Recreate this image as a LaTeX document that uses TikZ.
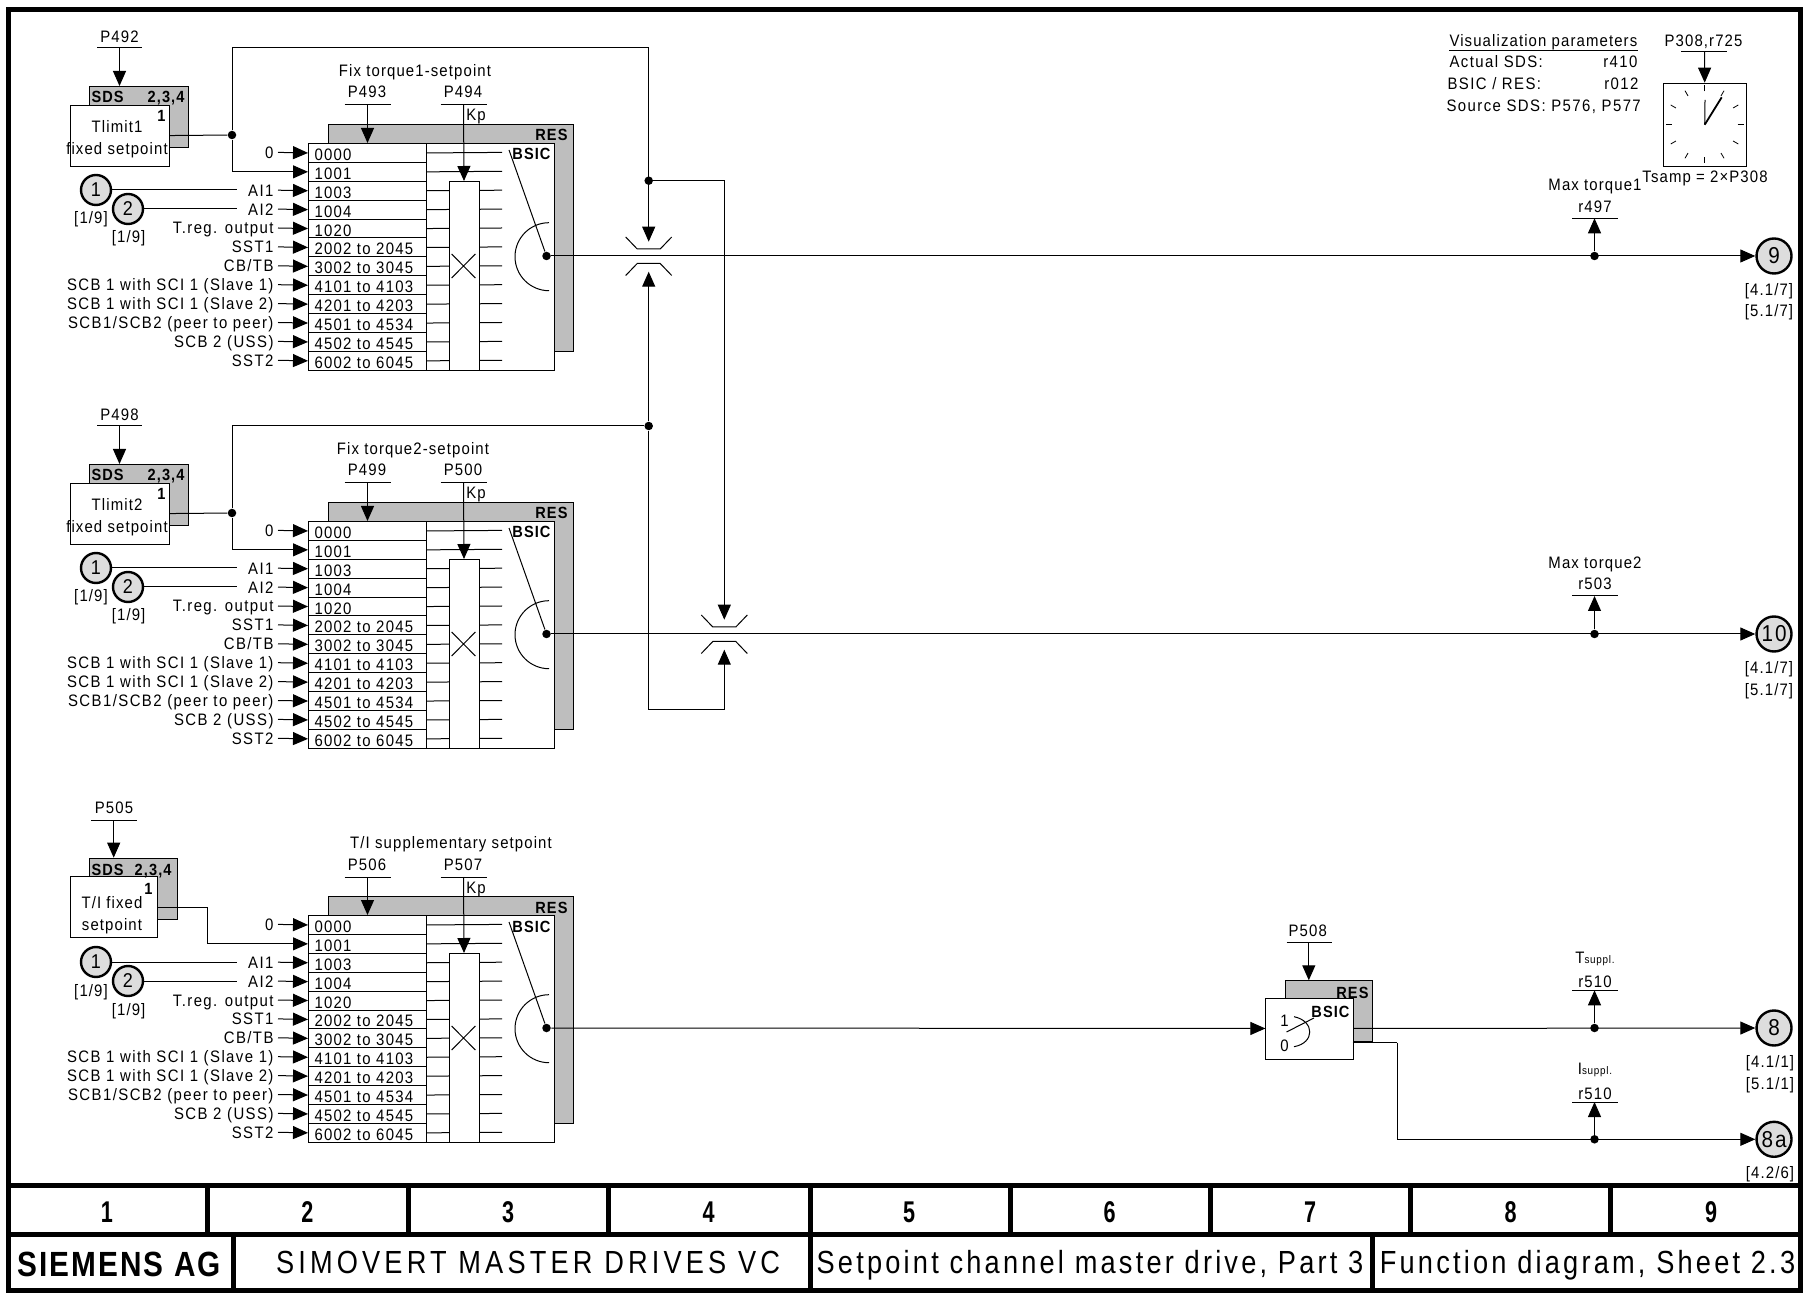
\documentclass[tikz,border=0pt]{standalone}
\usepackage{fontspec}
\usetikzlibrary{arrows.meta,calc}
\newfontfamily\lblfam[FakeStretch=.9,LetterSpace=8.6]{Liberation Sans}
\newfontfamily\rowfam[FakeStretch=.9,LetterSpace=7.5]{Liberation Sans}
\newfontfamily\visfam[FakeStretch=.9,LetterSpace=6.7]{Liberation Sans}
\newfontfamily\numfam[FakeStretch=.72]{Liberation Sans}
\newfontfamily\prodfam[FakeStretch=.85,LetterSpace=13]{Liberation Sans}
\newfontfamily\headfam[FakeStretch=.85,LetterSpace=10]{Liberation Sans}
\newfontfamily\firmfam[FakeStretch=.85,LetterSpace=6]{Liberation Sans}
\def\px{.5pt}
\definecolor{resgrey}{HTML}{BEBEBE}
\definecolor{sheetgrey}{HTML}{DDDDDD}
\tikzset{
  lbl/.style={font=\visfam\fontsize{8.3}{10}\selectfont,inner sep=0pt,text height=6pt,text depth=0pt},
  lblr/.style={lbl,font=\lblfam\fontsize{8.3}{10}\selectfont,anchor=east},
  lbll/.style={lbl,font=\lblfam\fontsize{8.3}{10}\selectfont,anchor=west},
  boldlbl/.style={lbl,font=\visfam\fontsize{8.1}{10}\selectfont\bfseries},
  box/.style args={#1x#2}{draw,anchor=north west,inner sep=0pt,minimum width=#1*\px,minimum height=#2*\px},
  whitebox/.style={box=#1,fill=white},
  greybox/.style={box=#1,fill=resgrey},
  rowbox/.style={whitebox=118x18.9,text width=106*\px,inner xsep=6*\px,text height=7.5pt,text depth=0pt,
    align=left,font=\rowfam\fontsize{8.3}{10}\selectfont},
  sheet/.style={circle,draw,line width=1.2pt,fill=sheetgrey,inner sep=0pt,minimum size=30*\px,
    font=\lblfam\fontsize{10}{12}\selectfont},
  outsheet/.style={sheet,minimum size=35*\px,font=\lblfam\fontsize{11.5}{13}\selectfont},
  dot/.style={circle,fill=black,inner sep=0pt,minimum size=8.5*\px},
  bignum/.style={font=\numfam\fontsize{15}{18}\selectfont\bfseries,inner sep=0pt},
  headtxt/.style={font=\headfam\fontsize{16}{19}\selectfont,inner sep=0pt}
}
\begin{document}
\begin{tikzpicture}[x=.5pt,y=-.5pt,line width=.5pt,>={Triangle[length=7.5pt,width=6.5pt]}]
  \useasboundingbox (0,0) rectangle (1803,1293);
  % Three selector blocks, same layout, shifted down the sheet.
  \foreach \b/\dy/\tx/\ti/\pa/\pb in {1/0/415/{Fix torque1-setpoint}/P493/P494,
      2/378/413/{Fix torque2-setpoint}/P499/P500,
      3/772/451/{T/I supplementary setpoint}/P506/P507} {
    \node[greybox=245x227] (res\b) at (328,124+\dy) {};
    \node[whitebox=246x227] (sel\b) at (308,143+\dy) {};
    \node[boldlbl,anchor=east] at (568,135+\dy) {RES};
    \node[boldlbl,anchor=east] at (551,154+\dy) {BSIC};
    \foreach \i/\lab/\cod in {0/0/0000,1//1001,2/AI1/1003,3/AI2/1004,4/T.reg. output/1020,
        5/SST1/2002 to 2045,6/{CB/TB}/3002 to 3045,7/SCB 1 with SCI 1 (Slave 1)/4101 to 4103,
        8/SCB 1 with SCI 1 (Slave 2)/4201 to 4203,9/{SCB1/SCB2 (peer to peer)}/4501 to 4534,
        10/SCB 2 (USS)/4502 to 4545,11/SST2/6002 to 6045} {
      \node[rowbox] (row\b-\i) at (308,143+\dy+18.9*\i) {\cod};
      \draw (row\b-\i.east) -- (502,152.4+\dy+18.9*\i);
      \ifnum\i=1\else
        \node[lblr] (lab\b-\i) at (274,152.4+\dy+18.9*\i) {\lab};
        \coordinate (in\b-\i) at (278,152.4+\dy+18.9*\i);
        \draw[->] (in\b-\i) -- (row\b-\i.west);
      \fi
    }
    \node[whitebox=30x189] (mult\b) at (448.5,181+\dy) {};
    \draw (451.6,254+\dy) -- (475.4,278+\dy) (475.4,254+\dy) -- (451.6,278+\dy);
    % setpoint selector switch
    \node[dot] (sw\b) at (546.5,256+\dy) {};
    \coordinate (swtop\b) at (509,150+\dy);
    \draw (swtop\b) -- (sw\b);
    \draw (549,222.7+\dy) arc[start angle=-90,end angle=-270,radius=34];
    % parameter bars
    \node[lbl] at (\tx,70.7+\dy) {\ti};
    \node[lbl] at (367,92+\dy) {\pa};
    \node[lbl] at (463,92+\dy) {\pb};
    \node[lbl] at (476,115+\dy) {Kp};
    \coordinate (bara\b) at (367.5,105+\dy);
    \coordinate (barb\b) at (463.5,105+\dy);
    \draw (344.5,105+\dy) -- (390.5,105+\dy);
    \draw (440.5,105+\dy) -- (486.5,105+\dy);
    \draw[->] (bara\b) -- (bara\b |- row\b-0.north);
    \draw[->] (barb\b) -- (mult\b.north);
    % analog inputs
    \node[sheet] (ai\b-1) at (96,190+\dy) {1};
    \node[sheet] (ai\b-2) at (128,209+\dy) {2};
    \coordinate (aie\b-1) at (237,190+\dy);
    \coordinate (aie\b-2) at (237,209+\dy);
    \draw (ai\b-1) -- (aie\b-1);
    \draw (ai\b-2) -- (aie\b-2);
    \node[lbl] at (91,218+\dy) {[1/9]};
    \node[lbl] at (128.6,237+\dy) {[1/9]};
  }
  % Fixed setpoint boxes
  \foreach \b/\dy/\p/\t in {1/0/P492/Tlimit1,2/378/P498/Tlimit2} {
    \node[greybox=98.5x61] (sds\b) at (89,86+\dy) {};
    \node[whitebox=99x61] (fix\b) at (70,105+\dy) {};
    \node[boldlbl,anchor=west] at (91,97+\dy) {SDS};
    \node[boldlbl,anchor=east] at (185,97+\dy) {2,3,4};
    \node[boldlbl,anchor=east] at (166,116+\dy) {1};
    \node[lbl] at (117,127+\dy) {\t};
    \node[lbl] at (117,149+\dy) {fixed setpoint};
    \node[lbl] at (119.5,37+\dy) {\p};
    \draw (97,48+\dy) -- (142,48+\dy);
    \coordinate (parm\b) at (119.5,48+\dy);
    \draw[->] (parm\b) -- (sds\b.north west -| parm\b);
    \node[dot] (fixdot\b) at (232,135+\dy) {};
    \draw (fix\b) -- (fixdot\b);
    \draw[->] (fixdot\b) |- (row\b-1.west);
    \coordinate (bus\b) at (232,48+\dy);
  }
  \node[greybox=88x61] (sds3) at (89,857.7) {};
  \node[whitebox=87x61] (fix3) at (70,876) {};
  \node[boldlbl,anchor=west] at (91,869) {SDS};
  \node[boldlbl,anchor=east] at (172,869) {2,3,4};
  \node[boldlbl,anchor=east] at (153,888) {1};
  \node[lbl] at (112,902) {T/I fixed};
  \node[lbl] at (112,924) {setpoint};
  \node[lbl] at (114,807) {P505};
  \draw (91,820) -- (137,820);
  \coordinate (parm3) at (113.7,820);
  \draw[->] (parm3) -- (sds3.north west -| parm3);
  \coordinate (fixout3) at (157,907);
  \coordinate (fixbend3) at (207,907);
  \draw[->] (fixout3) -- (fixbend3) |- (row3-1.west);
  % Throttling of the two outputs
  \foreach \n/\x/\y in {a/648.7/256,b/724.3/634} {
    \draw (\x-23,\y-19) -- (\x-11.5,\y-7) -- (\x+11.5,\y-7) -- (\x+23,\y-19);
    \draw (\x-23,\y+19.5) -- (\x-11.5,\y+7.5) -- (\x+11.5,\y+7.5) -- (\x+23,\y+19.5);
    \coordinate (lim\n top) at (\x,\y-14.3);
    \coordinate (lim\n bot) at (\x,\y+15.7);
  }
  \node[dot] (dota) at (648.7,180.7) {};
  \node[dot] (dotb) at (648.7,426) {};
  \coordinate (lowbend) at (648.7,709.5);
  \draw[->] (fixdot1) -- (bus1) -| (limatop);
  \draw[->] (dota) -| (limbtop);
  \draw (fixdot2) -- (bus2) -- (dotb);
  \draw[->] (dotb) -- (limabot);
  \draw[->] (dotb) -- (lowbend) -| (limbbot);
  % Outputs to the next sheets
  \node[outsheet] (out9) at (1774,256) {9};
  \node[outsheet] (out10) at (1774,634) {10};
  \node[outsheet] (out8) at (1774,1028) {8};
  \node[outsheet] (out8a) at (1774,1139.3) {8a};
  \draw[->] (sw1) -- (out9);
  \draw[->] (sw2) -- (out10);
  \node[lbl] at (1769,290) {[4.1/7]};
  \node[lbl] at (1769,311) {[5.1/7]};
  \node[lbl] at (1769,668) {[4.1/7]};
  \node[lbl] at (1769,689) {[5.1/7]};
  \node[lbl] at (1770,1061.7) {[4.1/1]};
  \node[lbl] at (1770,1083) {[5.1/1]};
  \node[lbl] at (1770,1172.7) {[4.2/6]};
  % Changeover block
  \node[greybox=87.5x61] (chg) at (1284.6,980.3) {};
  \node[whitebox=87.3x61] (chgsel) at (1265.4,997.5) {};
  \node[boldlbl,anchor=east] at (1369,992) {RES};
  \node[boldlbl,anchor=east] at (1350,1011) {BSIC};
  \node[lbl] at (1284.6,1020) {1};
  \node[lbl] at (1284.6,1045.7) {0};
  \draw (1286.5,1032) -- (1314,1018);
  \draw (1294,1016.7) .. controls (1315,1021) and (1315,1043) .. (1294,1046.7);
  \node[lbl] at (1307.7,930) {P508};
  \draw (1286.5,942.7) -- (1332,942.7);
  \coordinate (parm508) at (1308.8,942.7);
  \draw[->] (parm508) -- (parm508 |- chg.north);
  \draw[->] (sw3) -- (chgsel);
  \draw[->] (chgsel) -- (out8);
  \coordinate (chgout) at (1352.7,1042.7);
  \coordinate (chgbend) at (1397,1042.7);
  \draw (chgout) -- (chgbend);
  \draw[->] (chgbend) |- (out8a);
  % Visualization tap points
  \foreach \n/\y/\ybar/\o/\t/\p in {a/256/218.3/12/Max torque1/r497,b/634/596/12/Max torque2/r503,
      c/1028/990.3/9/{T{\fontsize{5.5}{6}\selectfont suppl.}}/r510,
      d/1139.3/1102/9/{I{\fontsize{5.5}{6}\selectfont suppl.}}/r510} {
    \node[dot] (tap\n) at (1594.5,\y) {};
    \coordinate (tapbar\n) at (1594.5,\ybar);
    \draw (1572,\ybar) -- (1617.7,\ybar);
    \draw[->] (tap\n) -- (tapbar\n);
    \node[lbl] at (1595,\ybar-\o) {\p};
    \node[lbl] at (1595,\ybar-33.3) {\t};
  }
  % Visualization parameters and sampling clock
  \node[lbl,anchor=west] (vistitle) at (1449,40.7) {Visualization parameters};
  \draw ($(vistitle.south west)+(0,3.5)$) -- ($(vistitle.south east)+(0,3.5)$);
  \node[lbll] at (1449,62) {Actual SDS:};
  \node[lblr] at (1638,62) {r410};
  \node[lbll] at (1447,84) {BSIC / RES:};
  \node[lblr] at (1639,84) {r012};
  \node[lbll] at (1446,106) {Source SDS: P576, P577};
  \node[box=83x83,fill=white] (clock) at (1662.7,82.7) {};
  \node[lbl] at (1703.5,41) {P308,r725};
  \draw (1681,51.7) -- (1726.7,51.7);
  \coordinate (parmclk) at (1704.5,51.7);
  \draw[->] (parmclk) -- (clock.north);
  \foreach \a in {0,30,...,330}
    \draw[line width=.4pt] ({1704.5+33*sin(\a)},{124.5-33*cos(\a)}) -- ({1704.5+39*sin(\a)},{124.5-39*cos(\a)});
  \draw (clock.center) -- (1705,100);
  \draw[line width=.9pt] (clock.center) -- (1721.7,97.3);
  \node[lbl] at (1705,177) {Tsamp = 2×P308};
  % Title block
  \draw[line width=2.5pt] (8.5,10) -- (1800.5,10) -- (1800.5,1290.5) -- (8.5,1290.5) -- cycle;
  \draw[line width=2.5pt] (8.5,1185.5) -- (1800.5,1185.5);
  \draw[line width=2.5pt] (8.5,1234.5) -- (1800.5,1234.5);
  \foreach \x in {207,408,608,810,1010,1210,1410,1610}
    \draw[line width=2.5pt] (\x,1185.5) -- (\x,1234.5);
  \foreach \x in {233,810,1372}
    \draw[line width=2.5pt] (\x,1234.5) -- (\x,1290.5);
  \foreach \n [count=\k from 0] in {1,...,9}
    \node[bignum] (col\n) at (107+200.5*\k,1212) {\n};
  \node[font=\firmfam\fontsize{17.5}{20}\selectfont\bfseries,inner sep=0pt] (firm) at (119,1264) {SIEMENS AG};
  \node[headtxt,font=\prodfam\fontsize{16}{19}\selectfont] (prod) at (528,1262) {SIMOVERT MASTER DRIVES VC};
  \node[headtxt] (sheetname) at (1090,1265) {Setpoint channel master drive, Part 3};
  \node[headtxt] (sheetno) at (1587.5,1265) {Function diagram, Sheet 2.3};
\end{tikzpicture}
\end{document}
